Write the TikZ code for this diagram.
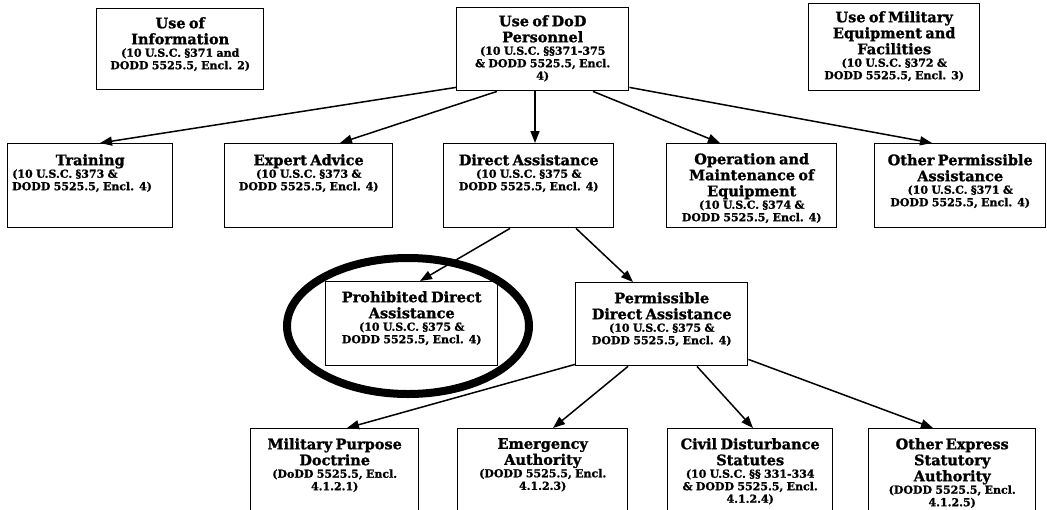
\documentclass[tikz,border=0pt]{standalone}
\usepackage{fontspec}
\setmainfont{DejaVu Serif}[BoldFeatures={FakeBold=1.3}]
\usetikzlibrary{arrows.meta,calc}
\newcommand{\ttl}{\fontsize{14.5}{16}\selectfont\bfseries}
\newcommand{\sbt}{\fontsize{11}{12.5}\selectfont\bfseries}
\tikzset{
  box/.style={draw, line width=1.4pt, inner sep=0pt, anchor=north west},
  txt/.style={anchor=north, align=center, inner sep=0pt, text width=168pt},
  arr/.style={line width=1.5pt, -{Triangle[length=12pt,width=9pt]}},
}
\begin{document}
\begin{tikzpicture}[x=1pt,y=-1pt]
\useasboundingbox (0,0) rectangle (1047,509);
\clip (0,0) rectangle (1047,509);
% top row
\node[box, minimum width=167pt, minimum height=81pt] (info) at (96,8) {};
\node[txt] (infoT) at ([yshift=-9pt]info.north) {{\ttl Use of\\Information\par}{\sbt (10 U.S.C. §371 and\\DODD 5525.5, Encl. 2)\par}};
\node[box, minimum width=172pt, minimum height=83pt] (dod) at (456,7) {};
\node[txt] (dodT) at ([yshift=-8pt]dod.north) {{\ttl Use of DoD\\Personnel\par}{\sbt (10 U.S.C. §§371-375\\\& DODD 5525.5, Encl.\\4)\par}};
\node[box, minimum width=171pt, minimum height=87pt] (mil) at (808,3) {};
\node[txt] (milT) at ([yshift=-8pt]mil.north) {{\ttl Use of Military\\Equipment and\\Facilities\par}{\sbt (10 U.S.C. §372 \&\\DODD 5525.5, Encl. 3)\par}};
% second row
\node[box, minimum width=165pt, minimum height=84pt] (train) at (7,143) {};
\node[txt] (trainT) at ([yshift=-11pt]train.north) {{\ttl Training\par}{\sbt\raggedright\hspace*{6pt}(10 U.S.C. §373 \&\\\hspace*{6pt}DODD 5525.5, Encl. 4)\par}};
\node[box, minimum width=168pt, minimum height=84pt] (expert) at (224,143) {};
\node[txt] (expertT) at ([yshift=-11pt]expert.north) {{\ttl Expert Advice\par}{\sbt (10 U.S.C. §373 \&\\DODD 5525.5, Encl. 4)\par}};
\node[box, minimum width=170pt, minimum height=84pt] (direct) at (443,143) {};
\node[txt] (directT) at ([yshift=-11pt]direct.north) {{\ttl Direct Assistance\par}{\sbt (10 U.S.C. §375 \&\\DODD 5525.5, Encl. 4)\par}};
\node[box, minimum width=170pt, minimum height=84pt] (oper) at (666,143) {};
\node[txt] (operT) at ([yshift=-10pt]oper.north) {{\ttl Operation and\\Maintenance of\\Equipment\par}{\sbt (10 U.S.C. §374 \&\\DODD 5525.5, Encl. 4)\par}};
\node[box, minimum width=171pt, minimum height=84pt] (other) at (874,143) {};
\node[txt] (otherT) at ([yshift=-11pt]other.north) {{\ttl Other Permissible\\Assistance\par}{\sbt (10 U.S.C. §371 \&\\DODD 5525.5, Encl. 4)\par}};
% third row
\node[box, minimum width=172pt, minimum height=84pt] (prohib) at (325,281) {};
\node[txt] (prohibT) at ([yshift=-10pt]prohib.north) {{\ttl Prohibited Direct\\Assistance\par}{\sbt (10 U.S.C. §375 \&\\DODD 5525.5, Encl. 4)\par}};
\node[box, minimum width=172pt, minimum height=83pt] (permis) at (575,282) {};
\node[txt] (permisT) at ([yshift=-10pt]permis.north) {{\ttl Permissible\\Direct Assistance\par}{\sbt (10 U.S.C. §375 \&\\DODD 5525.5, Encl. 4)\par}};
% ellipse highlight
\draw[line width=8pt] (408,326) ellipse [x radius=121, y radius=68];
% bottom row
\node[box, minimum width=168pt, minimum height=100pt] (mpd) at (250,428) {};
\node[txt] (mpdT) at ([yshift=-10pt]mpd.north) {{\ttl Military Purpose\\Doctrine\par}{\sbt (DoDD 5525.5, Encl.\\4.1.2.1)\par}};
\node[box, minimum width=170pt, minimum height=100pt] (emerg) at (457,428) {};
\node[txt] (emergT) at ([yshift=-10pt]emerg.north) {{\ttl Emergency\\Authority\par}{\sbt (DODD 5525.5, Encl.\\4.1.2.3)\par}};
\node[box, minimum width=165pt, minimum height=100pt] (civil) at (667,428) {};
\node[txt] (civilT) at ([yshift=-10pt]civil.north) {{\ttl Civil Disturbance\\Statutes\par}{\sbt (10 U.S.C. §§ 331-334\\\& DODD 5525.5, Encl.\\4.1.2.4)\par}};
\node[box, minimum width=167pt, minimum height=100pt] (oexp) at (868,428) {};
\node[txt] (oexpT) at ([yshift=-10pt]oexp.north) {{\ttl Other Express\\Statutory\\Authority\par}{\sbt (DODD 5525.5, Encl.\\4.1.2.5)\par}};
% connectors
\draw[arr] ($(dod.south west)+(0,-4)$) -- ($(train.north west)+(93,0)$);
\draw[arr] ($(dod.south west)+(41,0)$) -- ($(expert.north west)+(116,0)$);
\draw[arr] ($(dod.south west)+(79,0)$) -- ($(direct.north west)+(92,0)$);
\draw[arr] ($(dod.south west)+(137,0)$) -- ($(oper.north west)+(54,0)$);
\draw[arr] ($(dod.south east)+(0,-4)$) -- ($(other.north west)+(58,0)$);
\draw[arr] ($(direct.south west)+(67,0)$) -- ($(prohib.north west)+(95,0)$);
\draw[arr] ($(direct.south west)+(133,0)$) -- ($(permis.north west)+(58,0)$);
\draw[arr] ($(permis.south west)+(0,-2)$) -- ($(mpd.north west)+(97,0)$);
\draw[arr] ($(permis.south west)+(53,0)$) -- ($(emerg.north west)+(96,0)$);
\draw[arr] ($(permis.south west)+(122,0)$) -- ($(civil.north west)+(86,0)$);
\draw[arr] ($(permis.south east)+(0,-7)$) -- ($(oexp.north west)+(65,0)$);
\end{tikzpicture}
\end{document}
